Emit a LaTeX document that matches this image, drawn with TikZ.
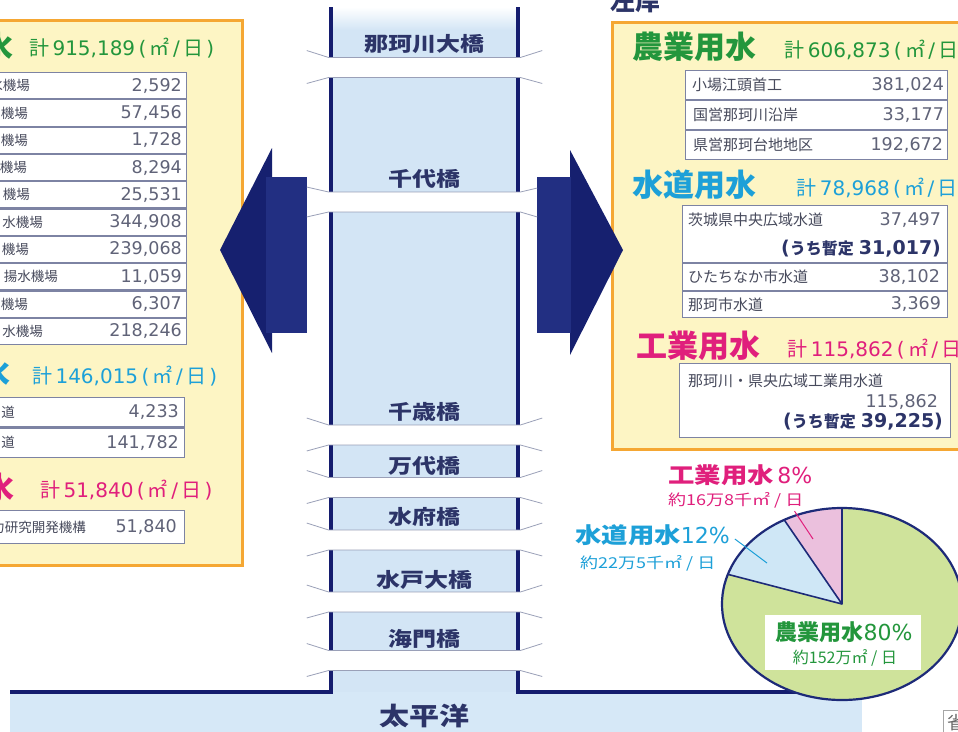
\documentclass[tikz,border=0pt]{standalone}
\usepackage{fontspec}
\setmainfont{Noto Sans CJK JP}
\newfontfamily\jpw[FakeStretch=1.2]{Noto Sans CJK JP}
\newfontfamily\numf{DejaVu Sans}
\usetikzlibrary{positioning,calc}
\definecolor{yellowb}{HTML}{FDF5C4}
\definecolor{orangeb}{HTML}{F5A733}
\definecolor{wallnavy}{HTML}{141C6E}
\definecolor{arrdark}{HTML}{16206F}
\definecolor{arrlight}{HTML}{222F82}
\definecolor{riverc}{HTML}{D3E5F5}
\definecolor{seac}{HTML}{D6E8F7}
\definecolor{edgegray}{HTML}{9AA0B8}
\definecolor{bnavy}{HTML}{2C3468}
\definecolor{agrg}{HTML}{23963C}
\definecolor{wtrc}{HTML}{1DA0D8}
\definecolor{indm}{HTML}{E01F7C}
\definecolor{cellb}{HTML}{7D83A3}
\definecolor{txtgray}{HTML}{474A5C}
\definecolor{numgray}{HTML}{606378}
\definecolor{piegrn}{HTML}{CFE39B}
\definecolor{pieblu}{HTML}{CFE7F6}
\definecolor{piepnk}{HTML}{EBC0DD}
\definecolor{pienavy}{HTML}{1D2A78}
\newcommand{\nm}[1]{{\numf #1}}
\newcommand{\perday}{\nm{\,(\,}㎡\nm{\,/\,}日\nm{\,)}}
\newcommand{\tentv}[1]{{\numf\fontsize{19}{20}\selectfont(}うち暫定\hspace{5pt}{\numf\fontsize{19}{20}\selectfont #1)}}
\tikzstyle{ybox}=[draw=orangeb, line width=3pt, fill=yellowb]
\tikzstyle{bigt}=[font=\bfseries\fontsize{31}{34}\selectfont, inner sep=0pt]
\tikzstyle{sumt}=[font=\fontsize{20}{22}\selectfont, inner sep=0pt, anchor=west]
\tikzstyle{cell}=[rectangle, draw=cellb, line width=1.1pt, fill=white, inner sep=0pt]
\tikzstyle{rowla}=[cell, minimum width=240pt, minimum height=26.2pt]
\tikzstyle{rowlb}=[cell, minimum width=240pt, minimum height=29.4pt]
\tikzstyle{lbl}=[font=\fontsize{13.5}{16}\selectfont, text=txtgray, inner sep=0pt, anchor=east]
\tikzstyle{lblr}=[font=\fontsize{15}{17}\selectfont, text=txtgray, inner sep=0pt, anchor=west]
\tikzstyle{num}=[font=\numf\fontsize{17.5}{19}\selectfont, text=numgray, inner sep=0pt, anchor=east]
\tikzstyle{tent}=[font=\bfseries\fontsize{16}{18}\selectfont, text=bnavy, inner sep=0pt, anchor=east]
\tikzstyle{bridge}=[rectangle, fill=white, minimum width=191pt, minimum height=19.5pt, inner sep=0pt]
\tikzstyle{bedge}=[-, line width=0.8pt, draw=edgegray]
\tikzstyle{blbl}=[font=\jpw\bfseries\fontsize{20}{22}\selectfont, text=bnavy, inner sep=0pt]
\tikzstyle{wall}=[-, line width=4pt, draw=wallnavy]
\tikzstyle{pieln}=[draw=pienavy, line width=1.6pt, line join=round]
\tikzstyle{piet}=[font=\jpw\fontsize{22}{24}\selectfont, inner sep=0pt, anchor=west]
\tikzstyle{pies}=[font=\jpw\fontsize{15}{17}\selectfont, inner sep=0pt, anchor=west]
\tikzstyle{lead}=[-, line width=1pt]

\begin{document}
\begin{tikzpicture}[x=1pt,y=-1pt]
\useasboundingbox (0,0) rectangle (958,731);
\clip (0,0) rectangle (958,731);
\fill[white] (0,0) rectangle (958,731);

\draw[ybox] (-10,20) rectangle (242,565);
\draw[ybox] (612,22) rectangle (975,449);

\node (AGRL) [bigt, text=agrg, anchor=east] at (14,47) {農業用水};
\node (AGRLsum) [sumt, text=agrg] at (29,48) {計\,\nm{915,189}\perday};
\node (AGRLa) [rowla, anchor=north east] at (187,72) {};
\node (AGRLb) [rowla, below=0pt of AGRLa] {};
\node (AGRLc) [rowla, below=0pt of AGRLb] {};
\node (AGRLd) [rowla, below=0pt of AGRLc] {};
\node (AGRLe) [rowla, below=0pt of AGRLd] {};
\node (AGRLf) [rowla, below=0pt of AGRLe] {};
\node (AGRLg) [rowla, below=0pt of AGRLf] {};
\node (AGRLh) [rowla, below=0pt of AGRLg] {};
\node (AGRLi) [rowla, below=0pt of AGRLh] {};
\node (AGRLj) [rowla, below=0pt of AGRLi] {};
\node [lbl] at (30,0 |- AGRLa) {水機場};   \node [num] at ([xshift=-5pt]AGRLa.east) {2,592};
\node [lbl] at (28,0 |- AGRLb) {機場};     \node [num] at ([xshift=-5pt]AGRLb.east) {57,456};
\node [lbl] at (28,0 |- AGRLc) {機場};     \node [num] at ([xshift=-5pt]AGRLc.east) {1,728};
\node [lbl] at (27,0 |- AGRLd) {機場};     \node [num] at ([xshift=-5pt]AGRLd.east) {8,294};
\node [lbl] at (30,0 |- AGRLe) {機場};     \node [num] at ([xshift=-5pt]AGRLe.east) {25,531};
\node [lbl] at (43,0 |- AGRLf) {水機場};   \node [num] at ([xshift=-5pt]AGRLf.east) {344,908};
\node [lbl] at (29,0 |- AGRLg) {機場};     \node [num] at ([xshift=-5pt]AGRLg.east) {239,068};
\node [lbl] at (58,0 |- AGRLh) {揚水機場}; \node [num] at ([xshift=-5pt]AGRLh.east) {11,059};
\node [lbl] at (28,0 |- AGRLi) {機場};     \node [num] at ([xshift=-5pt]AGRLi.east) {6,307};
\node [lbl] at (43,0 |- AGRLj) {水機場};   \node [num] at ([xshift=-5pt]AGRLj.east) {218,246};

\node (WTRL) [bigt, text=wtrc, anchor=east] at (11,373) {水道用水};
\node (WTRLsum) [sumt, text=wtrc] at (32,376) {計\,\nm{146,015}\perday};
\node (WTRLa) [rowlb, anchor=north east] at (185,397) {};
\node (WTRLb) [rowlb, below=0pt of WTRLa] {};
\node [lbl] at (15,0 |- WTRLa) {道}; \node [num] at ([xshift=-6pt]WTRLa.east) {4,233};
\node [lbl] at (15,0 |- WTRLb) {道}; \node [num] at ([xshift=-6pt]WTRLb.east) {141,782};

\node (INDL) [bigt, text=indm, anchor=east] at (15,488) {工業用水};
\node (INDLsum) [sumt, text=indm] at (40,490) {計\,\nm{51,840}\perday};
\node (INDLa) [cell, minimum width=240pt, minimum height=32.8pt, anchor=north east] at (185,510) {};
\node [lbl] at (86,0 |- INDLa) {力研究開発機構}; \node [num] at ([xshift=-8pt]INDLa.east) {51,840};

\node (LGAN) [font=\bfseries\fontsize{25}{28}\selectfont, text=bnavy, inner sep=0pt] at (635,1) {左岸};

\node (AGRR) [bigt, text=agrg, anchor=west] at (632,47) {農業用水};
\node (AGRRsum) [sumt, text=agrg, right=28pt of AGRR, yshift=-3pt] {計\,\nm{606,873}\perday};
\node (AGRRa) [cell, minimum width=262pt, minimum height=28.9pt, anchor=north west] at (685,70) {};
\node (AGRRb) [cell, minimum width=262pt, minimum height=28.9pt, below=0pt of AGRRa] {};
\node (AGRRc) [cell, minimum width=262pt, minimum height=28.9pt, below=0pt of AGRRb] {};
\node [lblr] at ([xshift=7pt]AGRRa.west) {小場江頭首工};     \node [num] at ([xshift=-4pt]AGRRa.east) {381,024};
\node [lblr] at ([xshift=8pt]AGRRb.west) {国営那珂川沿岸};   \node [num] at ([xshift=-4pt]AGRRb.east) {33,177};
\node [lblr] at ([xshift=8pt]AGRRc.west) {県営那珂台地地区}; \node [num] at ([xshift=-5pt]AGRRc.east) {192,672};

\node (WTRR) [bigt, text=wtrc, anchor=west] at (632,185) {水道用水};
\node (WTRRsum) [sumt, text=wtrc, right=40pt of WTRR, yshift=-3pt] {計\,\nm{78,968}\perday};
\node (WTRRa) [cell, minimum width=265pt, minimum height=56.9pt, anchor=north west] at (682,205) {};
\node (WTRRb) [cell, minimum width=265pt, minimum height=26.9pt, below=0pt of WTRRa] {};
\node (WTRRc) [cell, minimum width=265pt, minimum height=25.9pt, below=0pt of WTRRb] {};
\node [lblr] at ([shift={(6,15)}]WTRRa.north west) {茨城県中央広域水道};
\node [num] at ([shift={(-7,15)}]WTRRa.north east) {37,497};
\node [tent] at ([shift={(-7,44)}]WTRRa.north east) {\tentv{31,017}};
\node [lblr] at ([xshift=6pt]WTRRb.west) {ひたちなか市水道}; \node [num] at ([xshift=-8pt]WTRRb.east) {38,102};
\node [lblr] at ([xshift=6pt]WTRRc.west) {那珂市水道};       \node [num] at ([xshift=-7pt]WTRRc.east) {3,369};

\node (INDR) [bigt, text=indm, anchor=west] at (636,346) {工業用水};
\node (INDRsum) [sumt, text=indm, right=27pt of INDR, yshift=-3pt] {計\,\nm{115,862}\perday};
\node (INDRa) [cell, minimum width=271pt, minimum height=74pt, anchor=north west] at (679,363) {};
\node [lblr] at ([shift={(9,18)}]INDRa.north west) {那珂川・県央広域工業用水道};
\node [num] at ([shift={(-13,39)}]INDRa.north east) {115,862};
\node [tent] at ([shift={(-8,59)}]INDRa.north east) {\tentv{39,225}};

\fill[riverc] (331,7) rectangle (518,692);
\shade[top color=white, bottom color=riverc] (331,7) rectangle (518,30);
\fill[seac] (10,692) rectangle (862,735);
\draw[wall] (331,7) -- (331,692) -- (10,692);
\draw[wall] (518,7) -- (518,692) -- (800,692);

\fill[arrdark] (220,250) -- (272,148) -- (272,353) -- cycle;
\fill[arrlight] (266,177) rectangle (307,333);
\fill[arrdark] (623,250) -- (570,150) -- (570,355) -- cycle;
\fill[arrlight] (537,177) rectangle (571,333);

\node (NKOH) [bridge] at (424.5,67.5) {};
\draw[bedge] ([shift={(-22,-7)}]NKOH.north west) -- (NKOH.north west) -- (NKOH.north east) -- ++(22,-7);
\draw[bedge] ([shift={(-22,6)}]NKOH.south west) -- (NKOH.south west) -- (NKOH.south east) -- ++(22,6);
\node (NKOHlbl) [blbl, above=4pt of NKOH] {那珂川大橋};

\node (CHYO) [bridge] at (424.5,202) {};
\draw[bedge] ([shift={(-22,-5)}]CHYO.north west) -- (CHYO.north west) -- (CHYO.north east) -- ++(17,-4);
\draw[bedge] ([shift={(-22,5)}]CHYO.south west) -- (CHYO.south west) -- (CHYO.south east) -- ++(17,5);
\node (CHYOlbl) [blbl, above=3pt of CHYO] {千代橋};

\node (CHTS) [bridge] at (424.5,435) {};
\draw[bedge] ([shift={(-22,-7)}]CHTS.north west) -- (CHTS.north west) -- (CHTS.north east) -- ++(22,-7);
\draw[bedge] ([shift={(-22,6)}]CHTS.south west) -- (CHTS.south west) -- (CHTS.south east) -- ++(22,6);
\node (CHTSlbl) [blbl, above=3pt of CHTS] {千歳橋};

\node (BNDI) [bridge] at (424.5,487.5) {};
\draw[bedge] ([shift={(-22,-7)}]BNDI.north west) -- (BNDI.north west) -- (BNDI.north east) -- ++(22,-7);
\draw[bedge] ([shift={(-22,6)}]BNDI.south west) -- (BNDI.south west) -- (BNDI.south east) -- ++(22,6);
\node (BNDIlbl) [blbl, above=2pt of BNDI] {万代橋};

\node (SIFU) [bridge] at (424.5,540) {};
\draw[bedge] ([shift={(-22,-7)}]SIFU.north west) -- (SIFU.north west) -- (SIFU.north east) -- ++(22,-7);
\draw[bedge] ([shift={(-22,6)}]SIFU.south west) -- (SIFU.south west) -- (SIFU.south east) -- ++(22,6);
\node (SIFUlbl) [blbl, above=3pt of SIFU] {水府橋};

\node (MITO) [bridge] at (424.5,602) {};
\draw[bedge] ([shift={(-22,-7)}]MITO.north west) -- (MITO.north west) -- (MITO.north east) -- ++(22,-7);
\draw[bedge] ([shift={(-22,6)}]MITO.south west) -- (MITO.south west) -- (MITO.south east) -- ++(22,6);
\node (MITOlbl) [blbl, above=2pt of MITO] {水戸大橋};

\node (KAIM) [bridge] at (424.5,660.5) {};
\draw[bedge] ([shift={(-22,-7)}]KAIM.north west) -- (KAIM.north west) -- (KAIM.north east) -- ++(22,-7);
\draw[bedge] ([shift={(-22,6)}]KAIM.south west) -- (KAIM.south west) -- (KAIM.south east) -- ++(22,6);
\node (KAIMlbl) [blbl, above=2pt of KAIM] {海門橋};

\node (PACF) [font=\jpw\bfseries\fontsize{25}{28}\selectfont, text=bnavy, inner sep=0pt] at (424.5,716) {太平洋};

\begin{scope}[shift={(842,604)}, y=1pt]
\fill[piegrn] (0,0) -- (162:120pt and 96pt) arc[start angle=162, end angle=450, x radius=120pt, y radius=96pt] -- cycle;
\fill[pieblu] (0,0) -- (118.8:120pt and 96pt) arc[start angle=118.8, end angle=162, x radius=120pt, y radius=96pt] -- cycle;
\fill[piepnk] (0,0) -- (90:120pt and 96pt) arc[start angle=90, end angle=118.8, x radius=120pt, y radius=96pt] -- cycle;
\draw[pieln] (162:120pt and 96pt) -- (0,0) -- (90:120pt and 96pt) (0,0) -- (118.8:120pt and 96pt);
\draw[pieln, line width=2.2pt] (0,0) ellipse [x radius=120pt, y radius=96pt];
\coordinate (KGPT) at (-29,65);
\coordinate (SUDPT) at (-75,41);
\end{scope}

\node (KGYP) [piet, text=indm] at (668,475) {{\bfseries 工業用水}\,\nm{8\%}};
\node (KGYPsub) [pies, text=indm] at (668,500) {約16万8千㎡ / 日};
\node (SUDP) [piet, text=wtrc] at (575,535) {{\bfseries 水道用水}\nm{12\%}};
\node (SUDPsub) [pies, text=wtrc] at (580,563) {約22万5千㎡ / 日};
\draw[lead, draw=indm] ([shift={(-9,3)}]KGYPsub.south east) -- (KGPT);
\draw[lead, draw=wtrc] ([shift={(5,4)}]SUDP.east) -- (SUDPT);
\node (NGYP) [rectangle, fill=white, minimum width=156pt, minimum height=55pt] at (843,642) {};
\node (NGYPt) [font=\bfseries\fontsize{22}{24}\selectfont, text=agrg, inner sep=0pt] at (844,632) {農業用水{\mdseries\nm{80\%}}};
\node (NGYPs) [font=\fontsize{16}{18}\selectfont, text=agrg, inner sep=0pt] at (845,658) {約152万㎡ / 日};

\node (SHOU) [draw=gray!70, line width=1pt, fill=white, font=\fontsize{18}{20}\selectfont, text=gray!80!black, inner sep=4pt, anchor=north west] at (943,710) {省};
\end{tikzpicture}
\end{document}
